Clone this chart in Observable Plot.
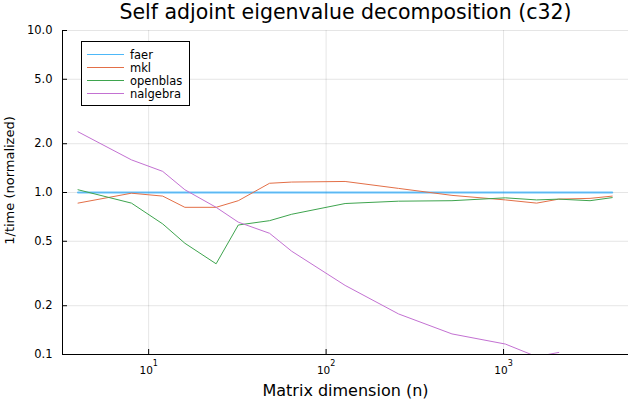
<!DOCTYPE html>
<html>
<head>
<meta charset="utf-8">
<script src="https://cdn.jsdelivr.net/npm/d3@7"></script>
<script src="https://cdn.jsdelivr.net/npm/@observablehq/plot@0.6"></script>
<style>
  html, body { margin: 0; padding: 0; background: #fff; }
  #wrap { position: relative; width: 640px; height: 400px; font-family: "DejaVu Sans", sans-serif; }
  #legend { position: absolute; left: 81px; top: 41px; width: 107px; height: 63px; border: 1px solid #000; background: #fff; }
  .row { position: absolute; left: 5px; height: 13px; display: flex; align-items: center; font-size: 11.5px; color: #000; white-space: nowrap; }
  .sw { width: 37px; height: 0; border-top: 1px solid; margin-right: 6px; }
</style>
</head>
<body>
<div id="wrap"><div id="chart"></div><div id="legend"></div></div>
<script>
// ---- data ----
const sizes = [4, 8, 12, 16, 24, 32, 48, 64, 128, 256, 512, 1024, 1536, 2048, 3072, 4096];
const faer     = [1, 1, 1, 1, 1, 1, 1, 1, 1, 1, 1, 1, 1, 1, 1, 1];
const mkl      = [0.86, 0.99, 0.95, 0.81, 0.81, 0.89, 1.14, 1.16, 1.17, 1.06, 0.96, 0.90, 0.86, 0.91, 0.92, 0.95];
const openblas = [1.04, 0.86, 0.64, 0.486, 0.363, 0.63, 0.67, 0.734, 0.855, 0.884, 0.89, 0.927, 0.90, 0.91, 0.89, 0.93];
const nalgebra = [2.37, 1.59, 1.35, 1.04, 0.81, 0.656, 0.56, 0.434, 0.267, 0.178, 0.134, 0.116, 0.097, 0.103, null, null];
const seriesNames = ["faer", "mkl", "openblas", "nalgebra"];
const seriesColors = ["#009AFA", "#E36F47", "#3EA44E", "#C371D2"];
const legendColors = ["#4DB8F8", "#E36F47", "#3EA44E", "#C371D2"];
const xTicks = [10, 100, 1000];
const xTickBase = "10";
const xTickExps = ["1", "2", "3"];
const yTicks = [0.1, 0.2, 0.5, 1, 2, 5, 10];
const yTickLabels = ["0.1", "0.2", "0.5", "1.0", "2.0", "5.0", "10.0"];
const title = "Self adjoint eigenvalue decomposition (c32)";
const xLabel = "Matrix dimension (n)";
const yLabel = "1/time (normalized)";

// ---- layout ----
const W = 640, H = 400, ML = 62, MR = 12, MT = 30, MB = 46;
const plotW = W - ML - MR, plotH = H - MT - MB;
const xDomain = [3.27, 5060];
const yDomain = [0.1, 10];
const font = "DejaVu Sans, sans-serif";

const valuesBySeries = [faer, mkl, openblas, nalgebra];
const rows = seriesNames.flatMap((name, s) =>
  sizes.map((n, i) => ({name, n, v: valuesBySeries[s][i]})).filter(d => d.v != null));
const faerRows = rows.filter(d => d.name === "faer");
const otherRows = rows.filter(d => d.name !== "faer");

const chart = Plot.plot({
  width: W, height: H,
  marginLeft: ML, marginRight: MR, marginTop: MT, marginBottom: MB,
  style: {fontFamily: font, background: "#fff", color: "#000"},
  x: {type: "log", domain: xDomain, axis: null},
  y: {type: "log", domain: yDomain, axis: null},
  color: {domain: seriesNames, range: seriesColors},
  marks: [
    Plot.ruleX(xTicks, {x: d => d, stroke: "#000", strokeOpacity: 0.1}),
    Plot.ruleY(yTicks, {y: d => d, stroke: "#000", strokeOpacity: 0.1}),
    Plot.text(xTicks, {x: d => d, frameAnchor: "bottom", dx: -2.5, dy: 16, textAnchor: "middle", lineAnchor: "middle", fontSize: 10.5, fill: "#000",
      text: () => xTickBase}),
    Plot.text(xTicks, {x: d => d, frameAnchor: "bottom", dx: 4.2, dy: 9.4, textAnchor: "start", lineAnchor: "middle", fontSize: 8, fill: "#000",
      text: d => xTickExps[xTicks.indexOf(d)]}),
    Plot.text(yTicks, {y: d => d, frameAnchor: "left", dx: -10, textAnchor: "end", lineAnchor: "middle", fontSize: 11.5, fill: "#000",
      text: d => yTickLabels[yTicks.indexOf(d)]}),
    Plot.line(faerRows, {x: "n", y: "v", stroke: "name", strokeWidth: 2, strokeOpacity: 0.6, clip: true}),
    Plot.line(otherRows, {x: "n", y: "v", z: "name", stroke: "name", strokeWidth: 1, clip: true}),
    Plot.tickY(yTicks, {y: d => d, insetRight: plotW - 5, stroke: "#000"}),
    Plot.tickX(xTicks, {x: d => d, insetTop: plotH - 5, stroke: "#000"}),
    Plot.ruleX([xDomain[0]], {x: d => d, stroke: "#000"}),
    Plot.ruleY([yDomain[0]], {y: d => d, stroke: "#000"}),
    Plot.text([title], {text: d => d, frameAnchor: "top", dy: -18.3, textAnchor: "middle", lineAnchor: "middle", fontSize: 20.5, fill: "#000"}),
    Plot.text([xLabel], {text: d => d, frameAnchor: "bottom", dy: 36, textAnchor: "middle", lineAnchor: "middle", fontSize: 16, fill: "#000"}),
    Plot.text([yLabel], {text: d => d, frameAnchor: "left", dx: -53, dy: -12, rotate: -90, textAnchor: "middle", lineAnchor: "middle", fontSize: 13, fill: "#000"})
  ]
});
document.getElementById("chart").appendChild(chart);

const legend = document.getElementById("legend");
seriesNames.forEach((name, i) => {
  const r = document.createElement("div");
  r.className = "row";
  r.style.top = (6 + i * 13) + "px";
  const sw = document.createElement("span");
  sw.className = "sw";
  sw.style.borderColor = legendColors[i];
  const t = document.createElement("span");
  t.textContent = name;
  r.appendChild(sw); r.appendChild(t);
  legend.appendChild(r);
});
</script>
</body>
</html>
